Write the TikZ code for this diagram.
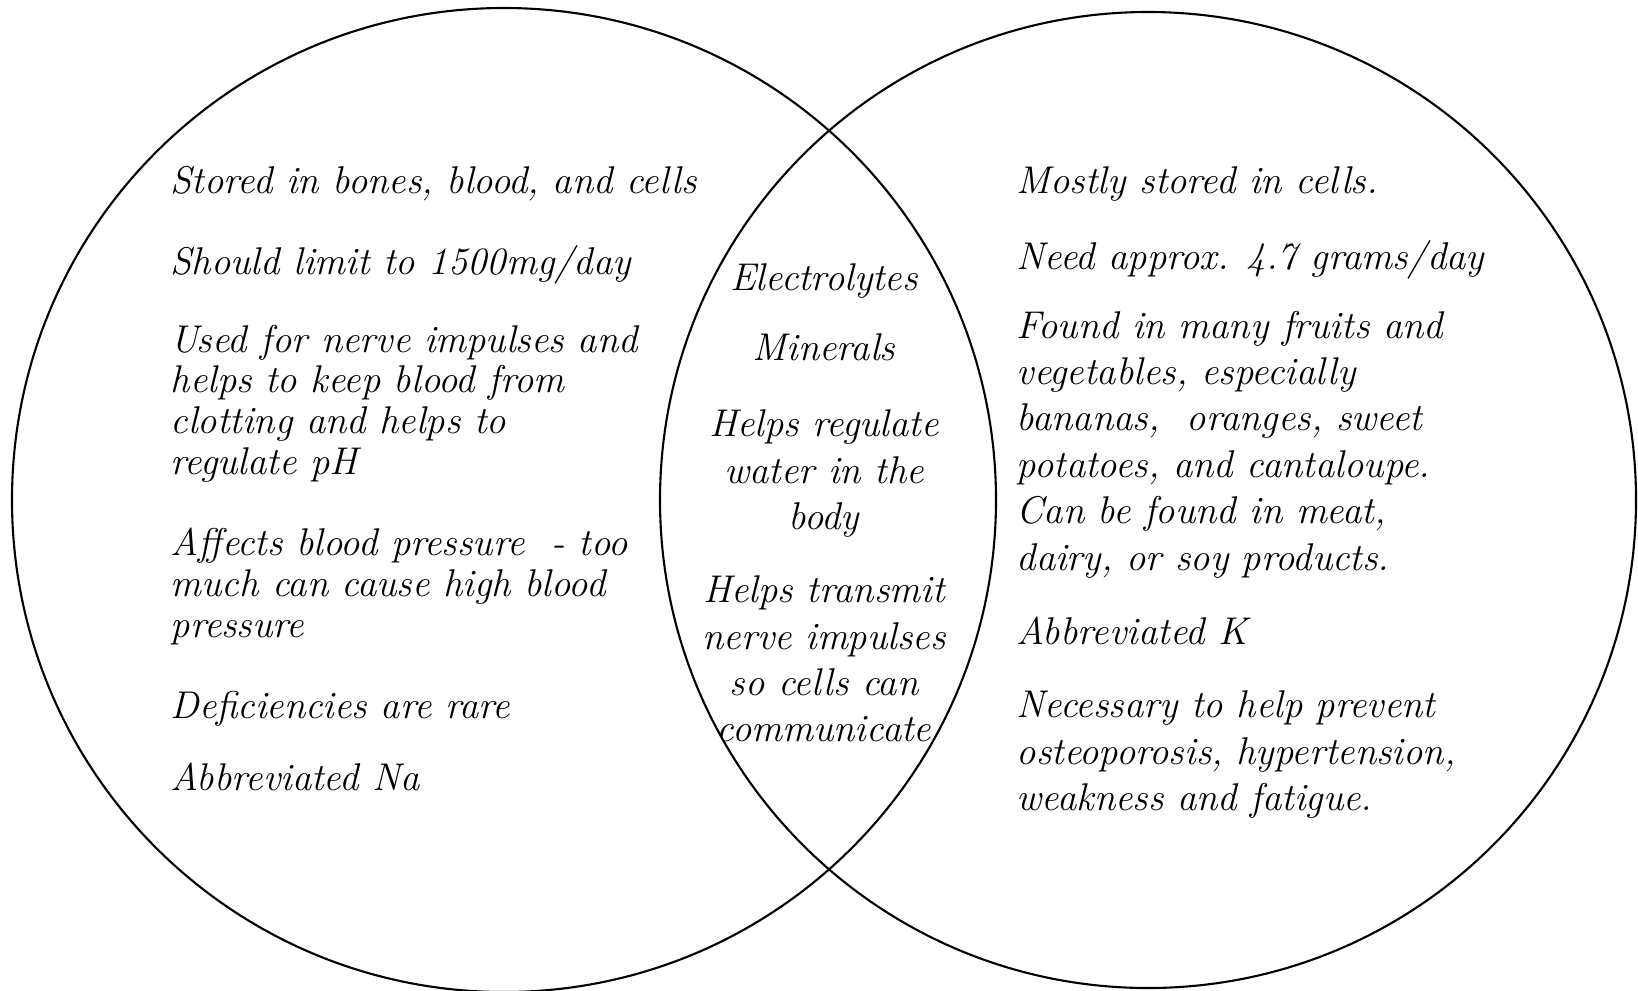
\documentclass[tikz,border=0pt]{standalone}
\usepackage{tikz}

\begin{document}
\begin{tikzpicture}[
		ring/.style={line width=0.6pt, color=black},
		txt/.style={inner sep=0pt, font=\fontsize{11}{11.6}\selectfont\itshape, align=left, anchor=north west},
		txtw/.style={txt, font=\fontsize{11}{13.2}\selectfont\itshape},
		txtc/.style={txtw, align=center, anchor=north}
	]
			%%%%% START %%%%%
			
			\useasboundingbox (0, 0) rectangle (16.38, -9.90);
			
			\draw[ring] (5.04, -5.00) circle (4.92);
			\draw[ring] (11.48, -5.00) circle (4.88);
			
			% sodium
			\node[txt] (na1) at (1.70, -1.652) {Stored in bones, blood, and cells};
			\node[txt] (na2) at (1.70, -2.452) {Should limit to 1500mg/day};
			\node[txt] (na3) at (1.70, -3.242) {Used for nerve impulses and\\helps to keep blood from\\clotting and helps to\\regulate pH};
			\node[txt] (na4) at (1.70, -5.272) {Affects blood pressure~~- too\\much can cause high blood\\pressure};
			\node[txt] (na5) at (1.70, -6.902) {Deficiencies are rare};
			\node[txt] (na6) at (1.70, -7.622) {Abbreviated Na};
			
			% both
			\node[txtc] (mid1) at (8.24, -2.632) {Electrolytes};
			\node[txtc] (mid2) at (8.24, -3.332) {Minerals};
			\node[txtc] (mid3) at (8.24, -4.092) {Helps regulate\\water in the\\body};
			\node[txtc] (mid4) at (8.24, -5.752) {Helps transmit\\nerve impulses\\so cells can\\communicate};
			
			% potassium
			\node[txtw] (k1) at (10.16, -1.662) {Mostly stored in cells.};
			\node[txtw] (k2) at (10.16, -2.402) {Need approx. 4.7 grams/day};
			\node[txtw] (k3) at (10.16, -3.102) {Found in many fruits and\\vegetables, especially\\bananas,~ oranges, sweet\\potatoes, and cantaloupe.\\Can be found in meat,\\dairy, or soy products.};
			\node[txtw] (k4) at (10.16, -6.162) {Abbreviated K};
			\node[txtw] (k5) at (10.16, -6.902) {Necessary to help prevent\\osteoporosis, hypertension,\\weakness and fatigue.};
			
			%%%%% END %%%%%
		\end{tikzpicture}
\end{document}
